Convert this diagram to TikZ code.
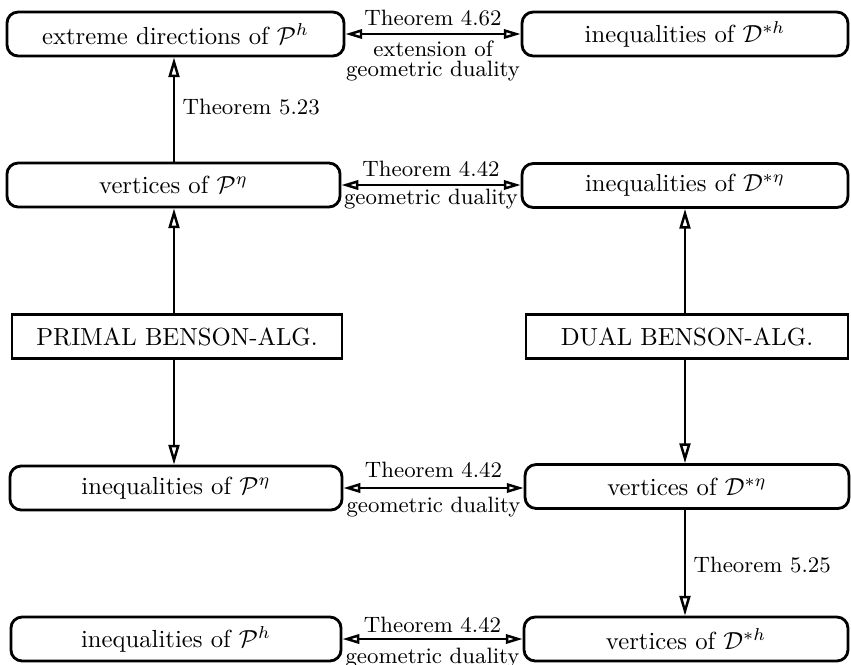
\documentclass[tikz,border=0pt]{standalone}
\usetikzlibrary{arrows.meta}
\begin{document}
\begin{tikzpicture}[x=0.405pt,y=-0.405pt,
  rbox/.style={draw,line width=1.15pt,rounded corners=4.5pt,inner sep=0pt,minimum height=17.8pt},
  sbox/.style={draw,line width=1pt,inner sep=0pt,minimum height=17.8pt},
  lbl/.style={font=\small,inner sep=0pt,align=center},
  conn/.style={line width=1pt,-{Triangle[open,length=8pt,width=4.4pt]}},
  dconn/.style={line width=1pt,{Triangle[open,length=6.8pt,width=3.8pt]}-{Triangle[open,length=6.8pt,width=3.8pt]}}]
\useasboundingbox (0,0) rectangle (851,665);
% boxes
\node[rbox,minimum width=136.5pt] (ext) at (175.5,34) {extreme directions of $\mathcal{P}^h$};
\node[rbox,minimum width=132pt] (ineqDh) at (685,34) {inequalities of $\mathcal{D}^{*h}$};
\node[rbox,minimum width=134.9pt] (vertPeta) at (173.5,185) {vertices of $\mathcal{P}^\eta$};
\node[rbox,minimum width=132pt] (ineqDeta) at (685,185.5) {inequalities of $\mathcal{D}^{*\eta}$};
\node[sbox,minimum width=133.7pt] (primal) at (177,336.5) {PRIMAL BENSON-ALG.};
\node[sbox,minimum width=130.4pt] (dual) at (687,336.5) {DUAL BENSON-ALG.};
\node[rbox,minimum width=134.5pt] (ineqPeta) at (176,488) {inequalities of $\mathcal{P}^\eta$};
\node[rbox,minimum width=131.2pt] (vertDeta) at (687,486.5) {vertices of $\mathcal{D}^{*\eta}$};
\node[rbox,minimum width=133.7pt] (ineqPh) at (176,639) {inequalities of $\mathcal{P}^h$};
\node[rbox,minimum width=131.2pt] (vertDh) at (686,639) {vertices of $\mathcal{D}^{*h}$};
% horizontal double arrows
\draw[dconn] (ext.east) -- (ineqDh.west)
  node[lbl,midway,yshift=6.3pt] (l1a) {Theorem 4.62}
  node[lbl,midway,yshift=-10.9pt] (l1b) {extension of\\[-2.6pt]geometric duality};
\draw[dconn] (vertPeta.east) -- (vertPeta.east -| ineqDeta.west)
  node[lbl,midway,yshift=6.6pt] (l2a) {Theorem 4.42}
  node[lbl,midway,yshift=-5.6pt] (l2b) {geometric duality};
\draw[dconn] (ineqPeta.east) -- (ineqPeta.east -| vertDeta.west)
  node[lbl,midway,yshift=7.5pt] (l3a) {Theorem 4.42}
  node[lbl,midway,yshift=-7.8pt] (l3b) {geometric duality};
\draw[dconn] (ineqPh.east) -- (vertDh.west)
  node[lbl,midway,yshift=5.8pt] (l4a) {Theorem 4.42}
  node[lbl,midway,yshift=-7.8pt] (l4b) {geometric duality};
% vertical arrows
\coordinate (cl) at (174,0);
\coordinate (cr) at (685,0);
\draw[conn] (cl |- vertPeta.north) -- (cl |- ext.south)
  node[lbl,midway,anchor=west,xshift=3pt,yshift=1pt] (l5) {Theorem 5.23};
\draw[conn] (cl |- primal.north) -- (cl |- vertPeta.south);
\draw[conn] (cl |- primal.south) -- (cl |- ineqPeta.north);
\draw[conn] (cr |- dual.north) -- (cr |- ineqDeta.south);
\draw[conn] (cr |- dual.south) -- (cr |- vertDeta.north);
\draw[conn] (cr |- vertDeta.south) -- (cr |- vertDh.north)
  node[lbl,midway,anchor=west,xshift=3pt,yshift=-1pt] (l6) {Theorem 5.25};
\end{tikzpicture}
\end{document}
